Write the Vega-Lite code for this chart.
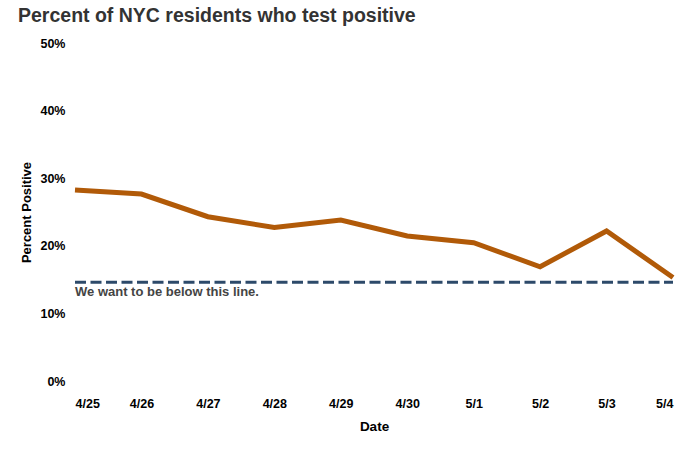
{
  "$schema": "https://vega.github.io/schema/vega-lite/v6.json",
  "width": 598,
  "height": 338,
  "autosize": "none",
  "padding": {"left": 75, "top": 43, "right": 17, "bottom": 68},
  "background": "white",
  "config": {
    "view": {"stroke": null},
    "font": "Liberation Sans"
  },
  "title": {
    "text": "Percent of NYC residents who test positive",
    "anchor": "start",
    "frame": "group",
    "dx": -57,
    "offset": 11,
    "fontSize": 19.5,
    "fontWeight": "bold",
    "color": "#333333",
    "font": "Liberation Sans"
  },
  "datasets": {
    "rates": [
      {"date": "2020-04-25", "pct": 0.2825},
      {"date": "2020-04-26", "pct": 0.2766},
      {"date": "2020-04-27", "pct": 0.243},
      {"date": "2020-04-28", "pct": 0.227},
      {"date": "2020-04-29", "pct": 0.238},
      {"date": "2020-04-30", "pct": 0.2145},
      {"date": "2020-05-01", "pct": 0.2046},
      {"date": "2020-05-02", "pct": 0.169},
      {"date": "2020-05-03", "pct": 0.222},
      {"date": "2020-05-04", "pct": 0.153}
    ],
    "target": [
      {"start": "2020-04-25", "end": "2020-05-04", "pct": 0.146, "note": "We want to be below this line."}
    ]
  },
  "layer": [
    {
      "data": {"name": "target"},
      "mark": {"type": "rule", "color": "#2d4a6a", "strokeWidth": 3, "strokeDash": [11, 4.5]},
      "encoding": {
        "x": {"field": "start", "type": "temporal"},
        "x2": {"field": "end"},
        "y": {"field": "pct", "type": "quantitative"}
      }
    },
    {
      "data": {"name": "target"},
      "mark": {"type": "text", "align": "left", "baseline": "alphabetic", "dy": 14, "dx": 0, "fontSize": 13, "fontWeight": "bold", "color": "#444444"},
      "encoding": {
        "x": {"field": "start", "type": "temporal"},
        "y": {"field": "pct", "type": "quantitative"},
        "text": {"field": "note"}
      }
    },
    {
      "data": {"name": "rates"},
      "mark": {"type": "line", "color": "#b15a08", "strokeWidth": 5},
      "encoding": {
        "x": {
          "field": "date",
          "type": "temporal",
          "scale": {"type": "utc"},
          "axis": {
            "title": "Date",
            "format": "%-m/%-d",
            "tickCount": {"interval": "day", "step": 1},
            "labelFlush": true,
            "labelFont": "Liberation Sans",
            "labelFontSize": 12.5,
            "labelFontWeight": "bold",
            "labelColor": "#000000",
            "labelPadding": 16,
            "labelOverlap": false,
            "titleFont": "Liberation Sans",
            "titleFontSize": 13.5,
            "titleFontWeight": "bold",
            "titleColor": "#000000",
            "titlePadding": 10,
            "domain": false,
            "ticks": false,
            "grid": false
          }
        },
        "y": {
          "field": "pct",
          "type": "quantitative",
          "scale": {"domain": [0, 0.5]},
          "axis": {
            "title": "Percent Positive",
            "format": ".0%",
            "values": [0, 0.1, 0.2, 0.3, 0.4, 0.5],
            "labelFont": "Liberation Sans",
            "labelFontSize": 12.5,
            "labelFontWeight": "bold",
            "labelColor": "#000000",
            "labelPadding": 10,
            "titleFont": "Liberation Sans",
            "titleFontSize": 13,
            "titleFontWeight": "bold",
            "titleColor": "#000000",
            "titlePadding": 6,
            "domain": false,
            "ticks": false,
            "grid": false
          }
        }
      }
    }
  ],
  "resolve": {"scale": {"x": "shared", "y": "shared"}}
}
